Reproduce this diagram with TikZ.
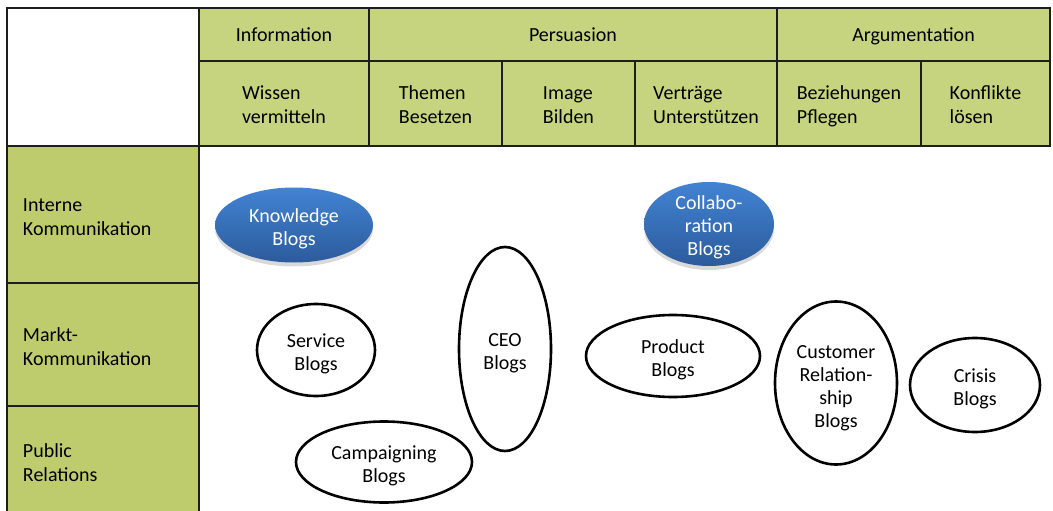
\documentclass[tikz,border=0pt]{standalone}
\usepackage{fontspec}
\setmainfont{Carlito}
\usetikzlibrary{shapes.geometric,shadows}

\definecolor{headgreen}{HTML}{C6D37F}
\definecolor{sidegreen}{HTML}{BFCC6E}
\definecolor{bloglight}{HTML}{4283D3}
\definecolor{blogdark}{HTML}{2C5B9C}
\definecolor{tableline}{HTML}{1E1E1E}

\begin{document}
\begin{tikzpicture}[x=1pt, y=-1pt, font=\fontsize{20}{24}\selectfont,
  cell/.style={draw=tableline, line width=1.8pt, fill=headgreen, inner sep=0pt, align=left,
    text height=19pt, text depth=4.5pt},
  subcell/.style={cell, minimum height=85pt, text height=43.5pt},
  side/.style={draw=tableline, line width=1.8pt, fill=sidegreen, inner xsep=16pt, inner ysep=0pt,
    text width=160pt, minimum width=192pt, align=left,
    execute at begin node={\rule{0pt}{21.5pt}}, execute at end node={\rule[-4.5pt]{0pt}{4.5pt}}},
  blog/.style={ellipse, draw=black, line width=2.6pt, inner sep=0pt, align=center,
    font=\fontsize{20}{23}\selectfont, text height=#1, text depth=4.5pt},
  blog/.default=44.5pt,
  blueblog/.style={ellipse, draw=none, inner sep=0pt, top color=bloglight, bottom color=blogdark,
    drop shadow={opacity=0.3, shadow xshift=0pt, shadow yshift=-4pt}},
  bluetext/.style={text=white, align=center, font=\fontsize{20}{23}\selectfont,
    text height=#1, text depth=4.5pt},
  bluetext/.default=44.5pt]

  \useasboundingbox (0,0) rectangle (1053,511);

  % ***************** HEADER ROW 1 *****************
  \node[cell, fill=white, minimum width=192pt, minimum height=138pt] (corner) at (103,77) {};
  \node[cell, minimum width=170pt, minimum height=53pt] (info) at (284,34.5) {Information};
  \node[cell, minimum width=408pt, minimum height=53pt] (pers) at (573,34.5) {Persuasion};
  \node[cell, minimum width=273pt, minimum height=53pt] (arg) at (913.5,34.5) {Argumentation};

  % ***************** HEADER ROW 2 *****************
  \node[subcell, minimum width=170pt] (wissen) at (284,103.5) {Wissen\\vermitteln};
  \node[subcell, minimum width=133pt] (themen) at (435.5,103.5) {Themen\\Besetzen};
  \node[subcell, minimum width=133pt] (image) at (568.5,103.5) {Image\\Bilden};
  \node[subcell, minimum width=142pt] (vertrag) at (706,103.5) {Verträge\\Unterstützen};
  \node[subcell, minimum width=144pt] (bezieh) at (849,103.5) {Beziehungen\\Pflegen};
  \node[subcell, minimum width=129pt] (konflikt) at (985.5,103.5) {Konflikte\\lösen};

  % ***************** SIDE COLUMN *****************
  \node[side, minimum height=137pt] (intern) at (103,214.5) {Interne\\Kommunikation};
  \node[side, minimum height=123pt] (markt) at (103,344.5) {Markt-\\Kommunikation};
  \node[side, minimum height=110pt] (public) at (103,461) {Public\\Relations};

  % ***************** BLUE BLOGS *****************
  \node[blueblog, minimum width=158pt, minimum height=75pt,
    label={[bluetext]center:Knowledge\\Blogs}] (knowledge) at (294,225) {};
  \node[blueblog, minimum width=130pt, minimum height=84pt,
    label={[bluetext=67.5pt]center:Collabo-\\ration\\Blogs}] (collab) at (709,224) {};

  % ***************** BLOGS *****************
  \node[blog, minimum width=118pt, minimum height=92pt] (service) at (316,350) {Service\\Blogs};
  \node[blog, minimum width=92pt, minimum height=204pt] (ceo) at (505,349) {CEO\\Blogs};
  \node[blog, minimum width=176pt, minimum height=81pt] (campaign) at (384,462) {Campaigning\\Blogs};
  \node[blog, minimum width=174pt, minimum height=82pt] (product) at (673,356) {Product\\Blogs};
  \node[blog=92.5pt, minimum width=122pt, minimum height=163pt] (customer) at (836,383) {Customer\\Relation-\\ship\\Blogs};
  \node[blog, minimum width=130pt, minimum height=94pt] (crisis) at (975,385) {Crisis\\Blogs};

\end{tikzpicture}
\end{document}
